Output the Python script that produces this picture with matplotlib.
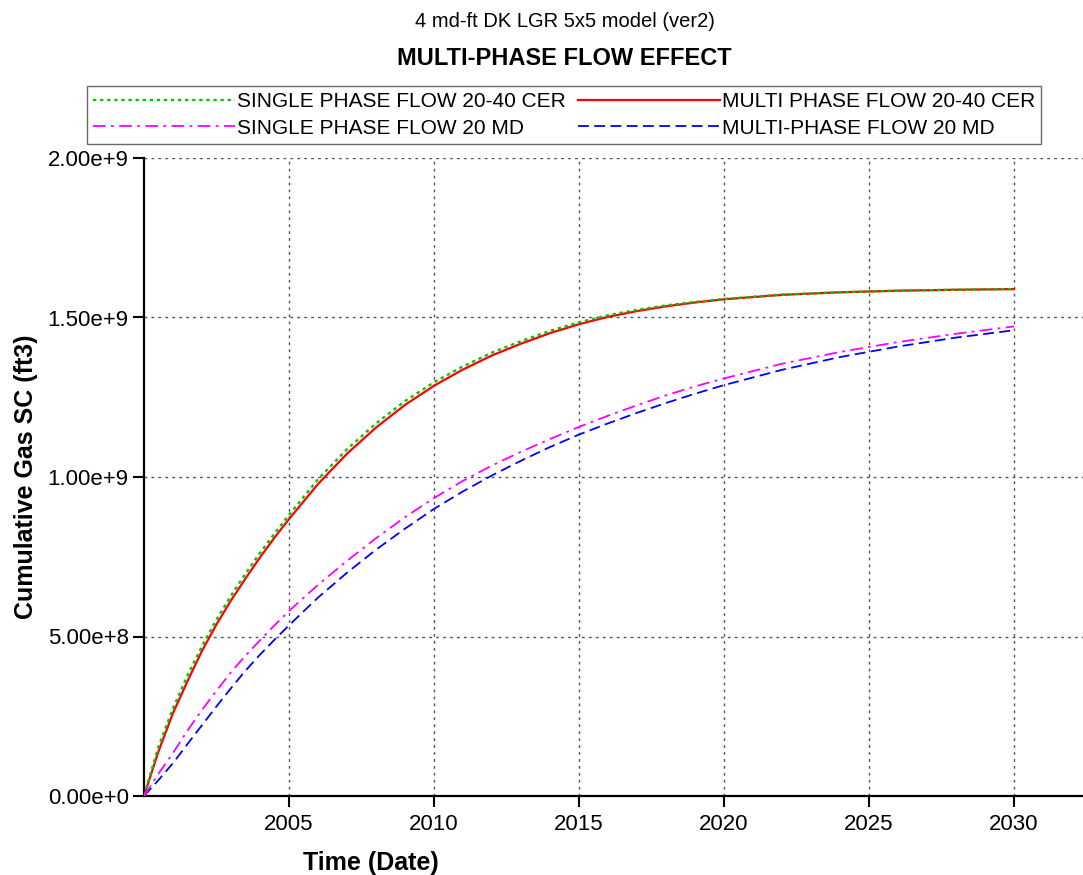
import math
import matplotlib
matplotlib.use("Agg")
import matplotlib.pyplot as plt
from matplotlib.ticker import FixedLocator, FuncFormatter

plt.rcParams['font.family'] = ['Liberation Sans', 'DejaVu Sans']

# ---- data (time in decimal years, cumulative gas in 1e9 ft3) ----
years = [2000.0, 2000.5, 2001.0, 2001.5, 2002.0, 2002.5, 2003.0, 2003.5, 2004.0, 2004.5,
         2005.0, 2006.0, 2007.0, 2008.0, 2009.0, 2010.0, 2011.0, 2012.0, 2013.0, 2014.0,
         2015.0, 2016.0, 2017.0, 2018.0, 2019.0, 2020.0, 2022.0, 2024.0, 2026.0, 2028.0,
         2030.0]

single_cer = [0.0, 0.155, 0.275, 0.378, 0.470, 0.553, 0.628, 0.697, 0.762, 0.823,
              0.881, 0.993, 1.087, 1.168, 1.238, 1.297, 1.347, 1.390, 1.426, 1.458,
              1.485, 1.507, 1.524, 1.538, 1.549, 1.558, 1.572, 1.579, 1.584, 1.587,
              1.589]
multi_cer = [0.0, 0.140, 0.260, 0.360, 0.455, 0.538, 0.613, 0.682, 0.748, 0.810,
             0.868, 0.978, 1.073, 1.155, 1.226, 1.286, 1.337, 1.381, 1.418, 1.451,
             1.479, 1.502, 1.520, 1.535, 1.547, 1.557, 1.571, 1.579, 1.584, 1.587,
             1.589]
single_md = [0.0, 0.070, 0.135, 0.205, 0.270, 0.330, 0.388, 0.440, 0.488, 0.535,
             0.580, 0.662, 0.737, 0.808, 0.874, 0.934, 0.988, 1.036, 1.079, 1.119,
             1.157, 1.192, 1.225, 1.256, 1.284, 1.309, 1.355, 1.392, 1.423, 1.449,
             1.472]
multi_md = [0.0, 0.050, 0.103, 0.163, 0.222, 0.281, 0.338, 0.393, 0.443, 0.490,
            0.535, 0.622, 0.700, 0.772, 0.838, 0.900, 0.955, 1.005, 1.051, 1.094,
            1.133, 1.168, 1.201, 1.232, 1.261, 1.288, 1.336, 1.376, 1.409, 1.437,
            1.460]

series_labels = ["SINGLE PHASE FLOW 20-40 CER", "MULTI PHASE FLOW 20-40 CER",
                 "SINGLE PHASE FLOW 20 MD", "MULTI-PHASE FLOW 20 MD"]
x_ticks = [2005, 2010, 2015, 2020, 2025, 2030]
y_ticks = [0.0, 0.5e9, 1.0e9, 1.5e9, 2.0e9]

scale = 1e9

fig = plt.figure(figsize=(10.83, 8.75), dpi=100)
ax = fig.add_axes([144/1083, 79/875, (1083-144)/1083, (796-158)/875])

l1, = ax.plot(years, [v*scale for v in single_cer], color='#00c800', lw=1.7,
              linestyle=(0, (1.4, 1.6)), label=series_labels[0], zorder=4)
l2, = ax.plot(years, [v*scale for v in multi_cer], color='#ff0000', lw=1.6,
              linestyle='-', label=series_labels[1], zorder=3)
l3, = ax.plot(years, [v*scale for v in single_md], color='#ff00ff', lw=1.3,
              linestyle=(0, (7, 3, 1.5, 3)), label=series_labels[2], zorder=4)
l4, = ax.plot(years, [v*scale for v in multi_md], color='#0000ff', lw=1.3,
              linestyle=(0, (6, 3)), label=series_labels[3], zorder=3)

ax.set_xlim(2000.0, 2032.38)
ax.set_ylim(0, 2.0e9)
ax.xaxis.set_major_locator(FixedLocator(x_ticks))
ax.yaxis.set_major_locator(FixedLocator(y_ticks))


def yfmt(v, pos):
    if v == 0:
        return "0.00e+0"
    e = int(math.floor(math.log10(abs(v)) + 1e-9))
    return f"{v/10**e:.2f}e+{e}"


ax.yaxis.set_major_formatter(FuncFormatter(yfmt))
ax.xaxis.set_major_formatter(FuncFormatter(lambda v, p: f"{int(round(v))}"))

ax.grid(True, color='#555555', linestyle=(0, (2, 3)), linewidth=1.0)
ax.set_axisbelow(True)

for s in ['top', 'right']:
    ax.spines[s].set_visible(False)
for s in ['left', 'bottom']:
    ax.spines[s].set_linewidth(1.6)
    ax.spines[s].set_color('black')

ax.tick_params(axis='both', direction='out', length=8, width=1.5, labelsize=16,
               colors='black')
ax.tick_params(axis='x', pad=5)
ax.tick_params(axis='y', pad=3)

ax.set_ylabel("Cumulative Gas SC (ft3)", fontsize=18, fontweight='bold', labelpad=7)
ax.set_xlabel("Time (Date)", fontsize=18, fontweight='bold')
ax.xaxis.set_label_coords(0.242, -0.086)

fig.text(0.522, 0.975, "4 md-ft DK LGR 5x5 model (ver2)", ha='center', va='center',
         fontsize=14.5)
fig.text(0.521, 0.933, "MULTI-PHASE FLOW EFFECT", ha='center', va='center',
         fontsize=17, fontweight='bold')

# row-major order as in the reference legend
leg = fig.legend(handles=[l1, l3, l2, l4], loc='center', ncol=2,
                 bbox_to_anchor=(564/1083, 1 - 115/875), frameon=True,
                 fancybox=False, edgecolor='#444444', fontsize=15,
                 handlelength=6.8, handletextpad=0.1, columnspacing=0.6,
                 labelspacing=0.35, borderpad=0.3, borderaxespad=0)
leg.get_frame().set_linewidth(1.0)

fig.savefig("out.png", dpi=100)
